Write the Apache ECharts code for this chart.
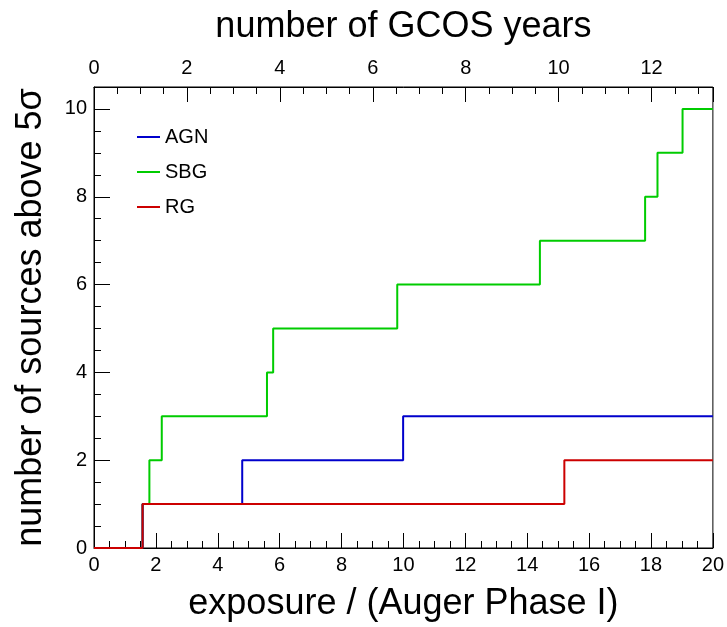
<!DOCTYPE html>
<html>
<head>
<meta charset="utf-8">
<script src="https://cdn.jsdelivr.net/npm/echarts@6/dist/echarts.min.js"></script>
<style>
  html, body { margin: 0; padding: 0; background: #fff; }
  #chart { width: 727px; height: 627px; }
</style>
</head>
<body>
<div id="chart"></div>
<script>
// Exposure (in units of Auger Phase I) at which each source count is reached
const agnExposure = [0, 1.57, 4.79, 9.99, 20];
const agnCount    = [0, 1, 2, 3, 3];

const sbgExposure = [0, 1.57, 1.79, 2.19, 5.59, 5.79, 9.80, 14.41, 17.81, 18.21, 19.02, 20];
const sbgCount    = [0, 1, 2, 3, 4, 5, 6, 7, 8, 9, 10, 10];

const rgExposure  = [0, 1.57, 15.20, 20];
const rgCount     = [0, 1, 2, 2];

// Top axis: GCOS years corresponding to the full exposure range
const exposureMax = 20;
const gcosYearsMax = 13.32;
const yMax = 10.5;

const FONT = '"Liberation Sans", Arial, Helvetica, sans-serif';

function pairs(xs, ys) {
  return xs.map((x, i) => [x, ys[i]]);
}

const chart = echarts.init(document.getElementById('chart'), null, { renderer: 'canvas' });

const tickLabel = { color: '#000', fontFamily: FONT, fontSize: 20 };
const titleText = { color: '#000', fontFamily: FONT, fontSize: 36 };

function legendAt(name, top) {
  return {
    data: [name],
    left: 132,
    top: top,
    orient: 'vertical',
    icon: 'rect',
    itemWidth: 23,
    itemHeight: 2,
    itemGap: 0,
    textStyle: { color: '#000', fontFamily: FONT, fontSize: 20, padding: [0, 0, 0, 0] },
    selectedMode: false
  };
}

chart.setOption({
  animation: false,
  backgroundColor: '#fff',
  grid: {
    left: 94, right: 14, top: 87, bottom: 79,
    show: true, borderColor: '#000', borderWidth: 1, backgroundColor: 'transparent'
  },
  legend: [legendAt('AGN', 122), legendAt('SBG', 157), legendAt('RG', 192)],
  xAxis: [
    {
      type: 'value', position: 'bottom', min: 0, max: exposureMax, interval: 2,
      name: 'exposure / (Auger Phase I)', nameLocation: 'middle', nameGap: 38,
      nameTextStyle: titleText,
      axisLine: { show: true, lineStyle: { color: '#000', width: 1 } },
      axisTick: { show: true, inside: true, length: 15, lineStyle: { color: '#000' } },
      minorTick: { show: true, splitNumber: 4, length: 7, lineStyle: { color: '#000' } },
      axisLabel: { ...tickLabel, margin: 7, showMaxLabel: true },
      splitLine: { show: false }
    },
    {
      type: 'value', position: 'top', min: 0, max: gcosYearsMax, interval: 2,
      name: 'number of GCOS years', nameLocation: 'middle', nameGap: 42,
      nameTextStyle: titleText,
      axisLine: { show: true, lineStyle: { color: '#000', width: 1 } },
      axisTick: { show: true, inside: true, length: 15, lineStyle: { color: '#000' } },
      minorTick: { show: true, splitNumber: 4, length: 7, lineStyle: { color: '#000' } },
      axisLabel: { ...tickLabel, margin: 9, showMaxLabel: false },
      splitLine: { show: false }
    }
  ],
  yAxis: {
    type: 'value', min: 0, max: yMax, interval: 2,
    name: 'number of sources above 5σ', nameLocation: 'middle', nameGap: 45,
    nameTextStyle: titleText,
    axisLine: { show: true, lineStyle: { color: '#000', width: 1 } },
    axisTick: { show: true, inside: true, length: 16, lineStyle: { color: '#000' } },
    minorTick: { show: true, splitNumber: 4, length: 7, lineStyle: { color: '#000' } },
    axisLabel: { ...tickLabel, margin: 7, showMaxLabel: false },
    splitLine: { show: false }
  },
  series: [
    {
      name: 'SBG', type: 'line', step: 'end', showSymbol: false, symbol: 'none',
      xAxisIndex: 0, color: '#00cc00', z: 2,
      lineStyle: { width: 2, color: '#00cc00' },
      data: pairs(sbgExposure, sbgCount)
    },
    {
      name: 'AGN', type: 'line', step: 'end', showSymbol: false, symbol: 'none',
      xAxisIndex: 0, color: '#0000cc', z: 3,
      lineStyle: { width: 2, color: '#0000cc' },
      data: pairs(agnExposure, agnCount)
    },
    {
      name: 'RG', type: 'line', step: 'end', showSymbol: false, symbol: 'none',
      xAxisIndex: 0, color: '#cc0000', z: 4,
      lineStyle: { width: 2, color: '#cc0000' },
      data: pairs(rgExposure, rgCount)
    }
  ]
});
</script>
</body>
</html>
